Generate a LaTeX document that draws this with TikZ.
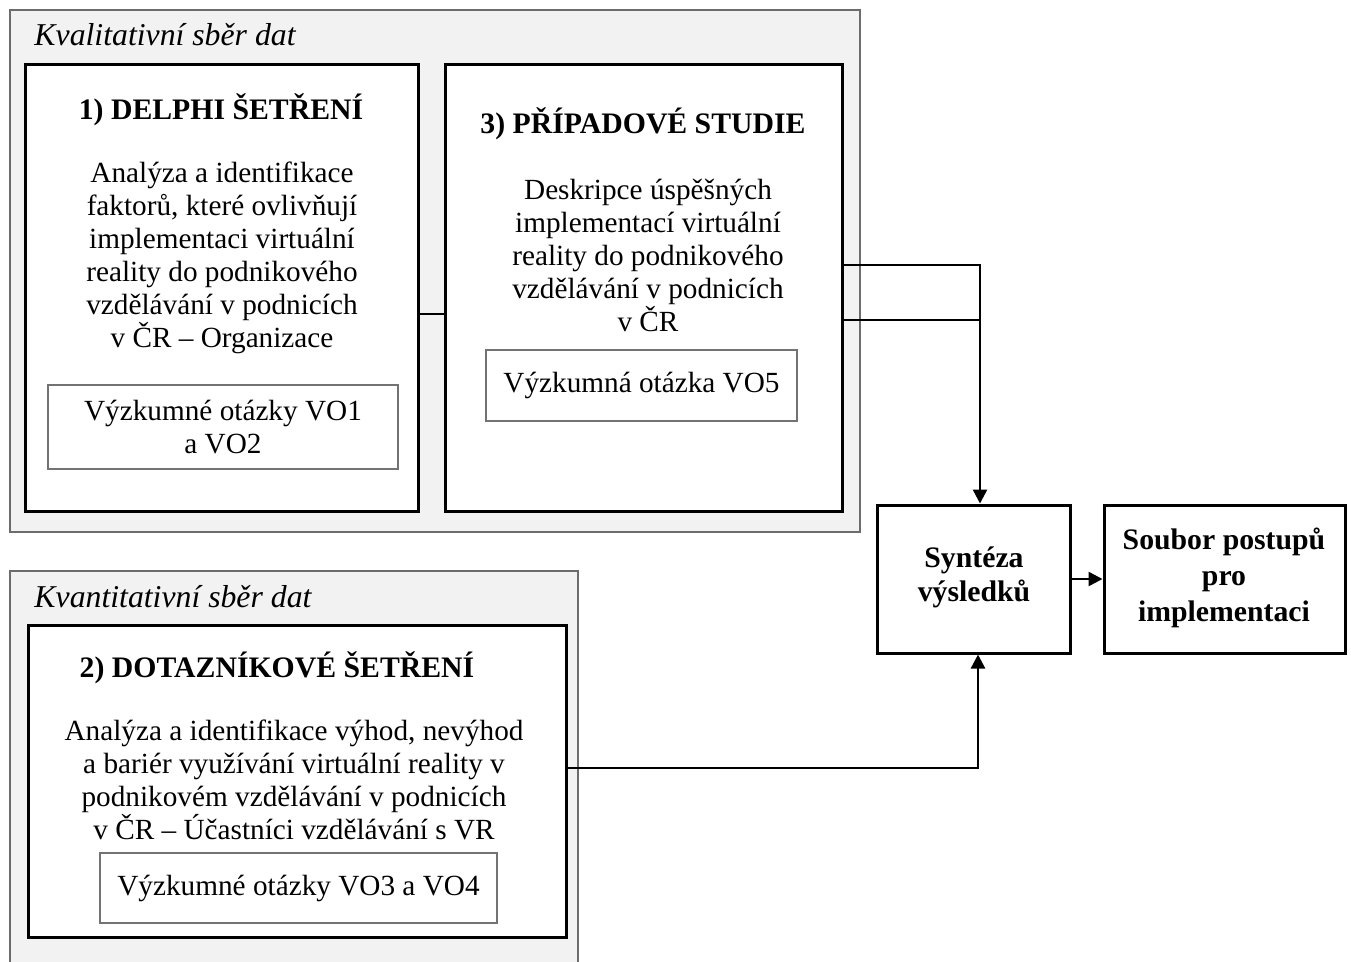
\documentclass[tikz,border=0pt]{standalone}
\usepackage{fontspec}
\setmainfont{Liberation Serif}
\usetikzlibrary{arrows.meta}
\begin{document}
\begin{tikzpicture}[x=0.4pt,y=-0.4pt,
  txt/.style={font=\fontsize{11.7}{13.2}\selectfont, align=center, inner sep=0pt},
  ttl/.style={font=\fontsize{11.9}{13.6}\selectfont\bfseries, align=center, inner sep=0pt},
  grpt/.style={font=\fontsize{12.7}{14}\selectfont\itshape, anchor=west, inner sep=0pt},
  grp/.style={draw=gray!85!black, fill=black!5, line width=0.8pt},
  mainbox/.style={draw=black, fill=white, line width=1.2pt},
  subbox/.style={draw=black!55, fill=white, line width=0.8pt},
  conn/.style={draw=black, line width=1pt},
  arr/.style={conn, -{Triangle[length=5.6pt,width=5.6pt]}}
]
\useasboundingbox (0,0) rectangle (1351,961);
% group backgrounds
\path[grp] (10,10) rectangle (860,532);
\path[grp] (10,571) rectangle (578,963);
\node[grpt] (g1t) at (34,35) {Kvalitativní sběr dat};
\node[grpt] (g2t) at (34,597) {Kvantitativní sběr dat};
% main boxes
\node[mainbox, minimum width=393*0.4pt, minimum height=447*0.4pt, inner sep=0pt] (b1) at (221.5,287.5) {};
\node[mainbox, minimum width=397*0.4pt, minimum height=447*0.4pt, inner sep=0pt] (b3) at (643.5,287.5) {};
\node[mainbox, minimum width=538*0.4pt, minimum height=312*0.4pt, inner sep=0pt] (b2) at (297,781) {};
\node[mainbox, minimum width=193*0.4pt, minimum height=148*0.4pt, inner sep=0pt] (syn) at (973.5,579) {};
\node[mainbox, minimum width=241*0.4pt, minimum height=148*0.4pt, inner sep=0pt] (sou) at (1224.5,579) {};
% sub boxes
\node[subbox, minimum width=350*0.4pt, minimum height=84*0.4pt, inner sep=0pt] (q1) at (223,427) {};
\node[subbox, minimum width=311*0.4pt, minimum height=71*0.4pt, inner sep=0pt] (q5) at (641.5,385.5) {};
\node[subbox, minimum width=397*0.4pt, minimum height=70*0.4pt, inner sep=0pt] (q3) at (298.5,888) {};
% texts
\node[ttl] (b1t) at (221,110) {1) DELPHI ŠETŘENÍ};
\node[txt] (b1x) at (222,258) {Analýza a identifikace\\faktorů, které ovlivňují\\implementaci virtuální\\reality do podnikového\\vzdělávání v podnicích\\v ČR – Organizace};
\node[txt] (q1x) at (q1) {Výzkumné otázky VO1\\a VO2};
\node[ttl] (b3t) at (643,124) {3) PŘÍPADOVÉ STUDIE};
\node[txt] (b3x) at (648,255) {Deskripce úspěšných\\implementací virtuální\\reality do podnikového\\vzdělávání v podnicích\\v ČR};
\node[txt] (q5x) at (q5) {Výzkumná otázka VO5};
\node[ttl] (b2t) at (277,668) {2) DOTAZNÍKOVÉ ŠETŘENÍ};
\node[txt] (b2x) at (294,780) {Analýza a identifikace výhod, nevýhod\\a bariér využívání virtuální reality v\\podnikovém vzdělávání v podnicích\\v ČR – Účastníci vzdělávání s VR};
\node[txt] (q3x) at (q3) {Výzkumné otázky VO3 a VO4};
\node[ttl] (synx) at (974,577) {Syntéza\\výsledků};
\node[ttl, font=\fontsize{11.9}{14.4}\selectfont\bfseries] (soux) at (1224,578) {Soubor postupů\\pro\\implementaci};
% connectors
\coordinate (j1) at (980,265);
\coordinate (j2) at (980,320);
\coordinate (j3) at (978,768);
\draw[conn] (b1.east |- 0,314) -- (b3.west |- 0,314);
\draw[arr] (b3.east |- j1) -- (j1) -- (j1 |- syn.north);
\draw[conn] (b3.east |- j2) -- (j2);
\draw[arr] (b2.east |- j3) -- (j3) -- (j3 |- syn.south);
\draw[arr] (syn.east) -- (sou.west);
\end{tikzpicture}
\end{document}
